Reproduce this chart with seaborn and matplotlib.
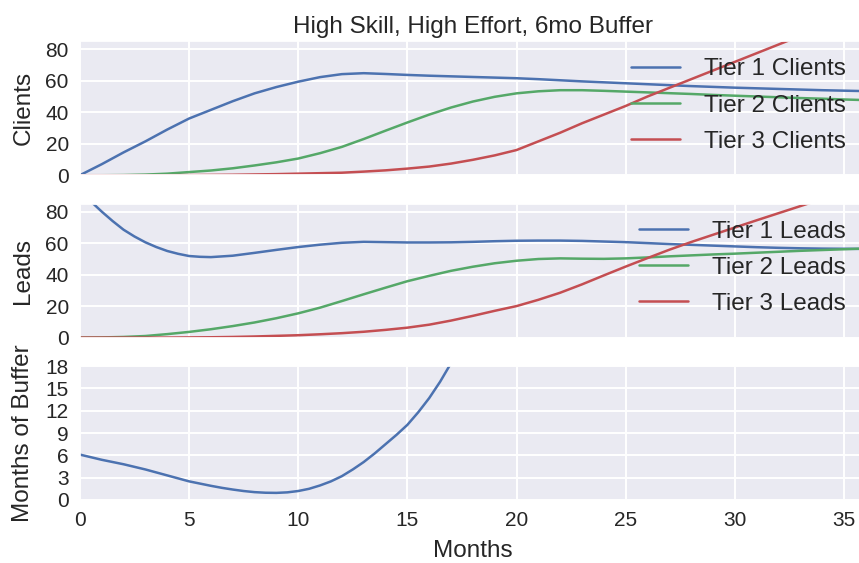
import numpy as np
import pandas as pd
import matplotlib
matplotlib.use('Agg')
import matplotlib.pyplot as plt
import seaborn as sns

# values, one per month
months = list(range(0, 37))

tier1_clients = [0, 7, 14.5, 21.5, 29, 36, 41.5, 47, 52, 56, 59.4, 62.3, 64.2, 64.8, 64.3, 63.7,
                 63.2, 62.8, 62.4, 62, 61.6, 61, 60.3, 59.6, 59, 58.4, 57.8, 57.2, 56.6, 56.1,
                 55.6, 55.2, 54.8, 54.4, 54, 53.7, 53.4]
tier2_clients = [0, 0, 0.1, 0.4, 1, 2, 3, 4.4, 6.2, 8.2, 10.6, 14, 18, 23, 28.3, 33.5, 38.5, 43,
                 46.8, 49.8, 52, 53.3, 54, 54, 53.6, 53.1, 52.6, 52.1, 51.6, 51, 50.5, 50, 49.5,
                 49, 48.6, 48.1, 47.7]
tier3_clients = [0, 0, 0, 0, 0, 0.1, 0.2, 0.3, 0.5, 0.7, 1, 1.3, 1.6, 2.3, 3.1, 4.2, 5.5, 7.4,
                 9.8, 12.6, 16, 21.5, 27, 33, 38.5, 44, 50, 55.5, 61, 66.5, 72, 77.5, 83, 88.5,
                 94, 99.5, 105]

# tier 1 leads falls fast at the start, so it gets half-month steps there
t1_lead_months = [0, 0.5, 1, 1.5, 2, 2.5, 3, 3.5, 4, 4.5, 5, 5.5] + list(range(6, 37))
tier1_leads = [94, 86.5, 80, 74, 68.5, 64.2, 60.5, 57.5, 55, 53.2, 51.8, 51.3,
               51.1, 52, 53.8, 55.7, 57.5, 59, 60.2, 60.8, 60.6,
               60.4, 60.4, 60.5, 60.8, 61.2, 61.5, 61.6, 61.6, 61.4, 61, 60.6, 60, 59.4, 58.9,
               58.4, 57.9, 57.4, 57, 56.7, 56.5, 56.4, 56.3]
tier2_leads = [0, 0.1, 0.4, 1, 2.2, 3.6, 5.3, 7.3, 9.6, 12.3, 15.4, 19, 23.2, 27.5, 31.7, 35.8,
               39.2, 42.4, 45, 47.2, 48.8, 49.9, 50.3, 50.1, 50, 50.3, 50.9, 51.6, 52.2, 52.8,
               53.3, 53.9, 54.5, 55.1, 55.6, 56.1, 56.6]
tier3_leads = [0, 0, 0, 0, 0, 0.1, 0.2, 0.4, 0.7, 1.1, 1.5, 2.1, 2.8, 3.7, 4.9, 6.3, 8.2, 10.8,
               13.8, 17, 20, 24, 28.5, 33.8, 39.5, 45.1, 50.5, 55.8, 60.7, 65.3, 69.9, 74.5, 79,
               83.5, 88, 92.5, 97]

buffer_months = [m / 2 for m in range(0, 39)]
buffer = [6.1, 5.75, 5.4, 5.1, 4.8, 4.45, 4.1, 3.7, 3.3, 2.9, 2.5, 2.2, 1.9, 1.63, 1.4, 1.2,
          1.05, 0.97, 0.95, 1.02, 1.2, 1.5, 1.95, 2.5, 3.2, 4.1, 5.1, 6.25, 7.5, 8.75, 10.1,
          11.8, 13.7, 15.9, 18.4, 21, 24, 27, 30]

client_labels = ['Tier 1 Clients', 'Tier 2 Clients', 'Tier 3 Clients']
lead_labels = ['Tier 1 Leads', 'Tier 2 Leads', 'Tier 3 Leads']
colors = ['#4C72B0', '#55A868', '#C44E52']

sns.set_theme(style='darkgrid', rc={'axes.facecolor': '#EAEAF2', 'grid.linewidth': 1.4})
plt.rcParams['font.family'] = ['Liberation Sans', 'DejaVu Sans']
plt.rcParams['text.color'] = '.15'
plt.rcParams['axes.labelcolor'] = '.15'
plt.rcParams['xtick.color'] = '.15'
plt.rcParams['ytick.color'] = '.15'

fig, axes = plt.subplots(3, 1, figsize=(8.59, 5.63), dpi=100, sharex=True)
fig.subplots_adjust(left=0.093, right=1.008, bottom=0.112, top=0.9265, hspace=0.213)

ax1, ax2, ax3 = axes
lw = 1.8
for vals, lab, c in zip([tier1_clients, tier2_clients, tier3_clients], client_labels, colors):
    sns.lineplot(x=months, y=vals, ax=ax1, color=c, label=lab, linewidth=lw)
sns.lineplot(x=t1_lead_months, y=tier1_leads, ax=ax2, color=colors[0], label=lead_labels[0], linewidth=lw)
sns.lineplot(x=months, y=tier2_leads, ax=ax2, color=colors[1], label=lead_labels[1], linewidth=lw)
sns.lineplot(x=months, y=tier3_leads, ax=ax2, color=colors[2], label=lead_labels[2], linewidth=lw)
sns.lineplot(x=buffer_months, y=buffer, ax=ax3, color=colors[0], linewidth=lw)

ax1.set_title('High Skill, High Effort, 6mo Buffer', fontsize=17.5)
ax1.set_ylabel('Clients', fontsize=17.5, labelpad=8)
ax2.set_ylabel('Leads', fontsize=17.5, labelpad=8)
ax3.set_ylabel('Months of Buffer', fontsize=17.5, labelpad=8)
ax3.set_xlabel('Months', fontsize=17.5, labelpad=7.5)

for ax in (ax1, ax2):
    ax.set_ylim(0, 85)
    ax.set_yticks([0, 20, 40, 60, 80])
    ax.legend(loc='upper right', bbox_to_anchor=(0.996, 1.0), frameon=False, fontsize=17.5,
              borderaxespad=0.3, labelspacing=0.58, handletextpad=1.0)
ax3.set_ylim(0, 18)
ax3.set_yticks([0, 3, 6, 9, 12, 15, 18])
ax3.set_xlim(0, 36)
ax3.set_xticks([0, 5, 10, 15, 20, 25, 30, 35])

for ax in axes:
    ax.tick_params(labelsize=15, pad=8, length=0)

fig.savefig('out.png', dpi=100)
